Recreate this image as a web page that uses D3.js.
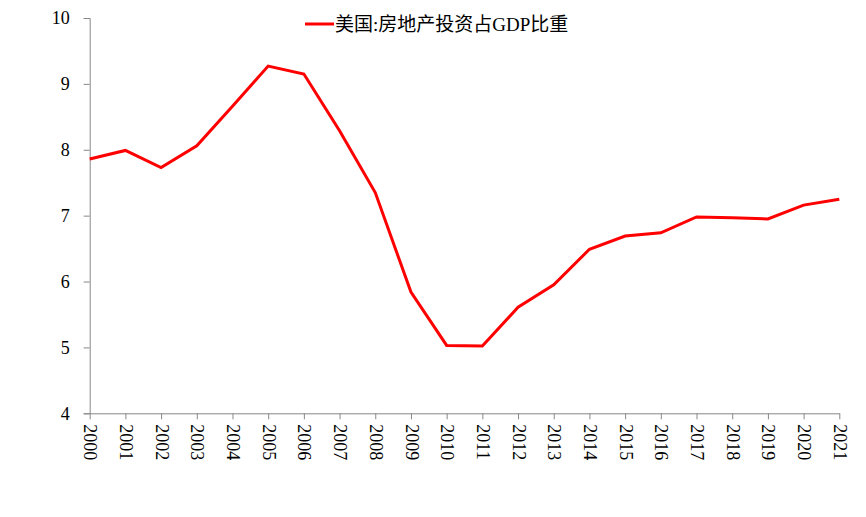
<!DOCTYPE html>
<html><head><meta charset="utf-8">
<script src="https://cdn.jsdelivr.net/npm/d3@7"></script>
<style>body{margin:0;background:#fff}svg{display:block}</style>
</head><body>
<svg id="c" width="866" height="517"></svg>
<script>
const years = ["2000","2001","2002","2003","2004","2005","2006","2007","2008","2009","2010","2011","2012","2013","2014","2015","2016","2017","2018","2019","2020","2021"];
const values = [7.86,7.99,7.73,8.06,8.66,9.27,9.15,8.29,7.35,5.84,5.03,5.02,5.61,5.95,6.49,6.69,6.74,6.98,6.97,6.95,7.16,7.25];
const yTicks = [4,5,6,7,8,9,10];
const seriesName = "美国:房地产投资占GDP比重";

const svg = d3.select("#c");
const x = d3.scalePoint().domain(years).range([89.7, 839.3]);
const y = d3.scaleLinear().domain([4,10]).range([413.3, 18]);

const axisColor = "#888";
const serif = "'Liberation Serif','Times New Roman',serif";

const gy = svg.append("g").attr("transform","translate(89.7,0)")
  .call(d3.axisLeft(y).tickValues(yTicks).tickFormat(d3.format("d")).tickSize(6).tickPadding(14));
gy.attr("font-family",null);
gy.select(".domain").attr("stroke",axisColor);
gy.selectAll(".tick line").attr("stroke",axisColor);
gy.selectAll("text").style("font-family",serif).style("font-size","18px").attr("fill","#000");

const gx = svg.append("g").attr("transform","translate(0,413.3)")
  .call(d3.axisBottom(x).tickSize(6).tickSizeOuter(0));
gx.attr("font-family",null);
gx.select(".domain").attr("stroke",axisColor);
gx.selectAll(".tick line").attr("stroke",axisColor);
gx.selectAll("text").style("font-family",serif).style("font-size","18px").attr("fill","#000")
  .attr("transform","rotate(90)").attr("x",11).attr("y",0).attr("dy","0.33em")
  .attr("text-anchor","start");

const line = d3.line().x((d,i)=>x(years[i])).y(d=>y(d));
svg.append("path").datum(values).attr("d",line)
  .attr("fill","none").attr("stroke","#ff0000").attr("stroke-width",3)
  .attr("stroke-linejoin","miter");

const lg = svg.append("g");
lg.append("line").attr("x1",305).attr("x2",334).attr("y1",24).attr("y2",24)
  .attr("stroke","#ff0000").attr("stroke-width",3);
lg.append("text").attr("x",335).attr("y",24).attr("dy","0.35em")
  .style("font-family","'Liberation Serif','Noto Sans CJK SC',serif").style("font-size","19px")
  .attr("fill","#000").text(seriesName);
</script>
</body></html>
